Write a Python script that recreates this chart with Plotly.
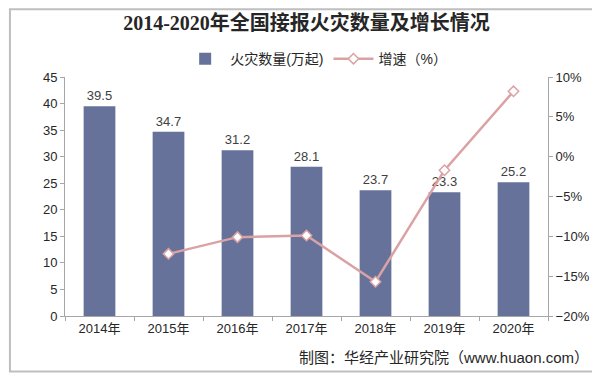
import plotly.graph_objects as go

years = ["2014年", "2015年", "2016年", "2017年", "2018年", "2019年", "2020年"]
fires = [39.5, 34.7, 31.2, 28.1, 23.7, 23.3, 25.2]
growth_years = ["2015年", "2016年", "2017年", "2018年", "2019年", "2020年"]
growth = [-12.2, -10.1, -9.9, -15.7, -1.7, 8.2]

title_text = "2014-2020年全国接报火灾数量及增长情况"
source_text = "制图：华经产业研究院（www.huaon.com）"

sans = "Liberation Sans, Arial, Noto Sans CJK SC, sans-serif"
serif = "Liberation Serif, Times New Roman, Noto Sans CJK SC, serif"

fig = go.Figure()
fig.add_trace(go.Bar(
    x=years, y=fires, name="火灾数量(万起)",
    marker=dict(color="#66729A", line=dict(width=0)),
    width=0.46,
    text=[f"{v:.1f}" for v in fires], textposition="outside",
    textfont=dict(size=13, color="#404040", family=sans),
    cliponaxis=False,
))
fig.add_trace(go.Scatter(
    x=growth_years, y=growth, name="增速（%）", yaxis="y2",
    mode="lines+markers",
    line=dict(color="#DBA2A4", width=2.5),
    marker=dict(symbol="diamond", size=8, color="white",
                line=dict(color="#DBA2A4", width=1.5)),
    cliponaxis=False,
))

axis_color = "#A6A6A6"
# page body has an 8px margin; figure is sized/offset to compensate
fig.update_layout(
    width=592, height=368,
    margin=dict(l=57, r=52, t=69, b=60, autoexpand=False),
    paper_bgcolor="white", plot_bgcolor="white",
    title=dict(text=f"<b>{title_text}</b>", x=0.5, xanchor="center",
               xref="paper", y=0.96, yanchor="middle",
               font=dict(family=serif, size=20, color="#262626")),
    legend=dict(orientation="h", x=0.52, xanchor="center", y=1.075,
                yanchor="middle", font=dict(family=sans, size=14, color="#262626"),
                itemwidth=40, bgcolor="rgba(0,0,0,0)"),
    bargap=0.54,
    showlegend=True,
    xaxis=dict(type="category", showline=True, linecolor=axis_color,
               ticks="outside", tickson="boundaries", tickcolor=axis_color,
               ticklen=4, showgrid=False,
               tickfont=dict(family=sans, size=13, color="#262626")),
    yaxis=dict(range=[0, 45], dtick=5, showline=True, linecolor=axis_color,
               ticks="outside", tickcolor=axis_color, ticklen=4,
               showgrid=False, zeroline=False,
               tickfont=dict(family=sans, size=13, color="#262626")),
    yaxis2=dict(range=[-20, 10], dtick=5, overlaying="y", side="right",
                showline=True, linecolor=axis_color, ticks="outside",
                tickcolor=axis_color, ticklen=4, ticksuffix="%",
                showgrid=False, zeroline=False,
                tickfont=dict(family=sans, size=13, color="#262626")),
    annotations=[dict(text=source_text, xref="paper", yref="paper",
                      x=0.48, y=-0.175, xanchor="left", yanchor="middle",
                      showarrow=False,
                      font=dict(family=sans, size=15, color="#262626"))],
)
fig.add_shape(type="rect", xref="paper", yref="paper",
              x0=-0.114, x1=1.096, y0=-0.232, y1=1.283,
              line=dict(color="#BFBFBF", width=2))

fig.write_html("out.html")
